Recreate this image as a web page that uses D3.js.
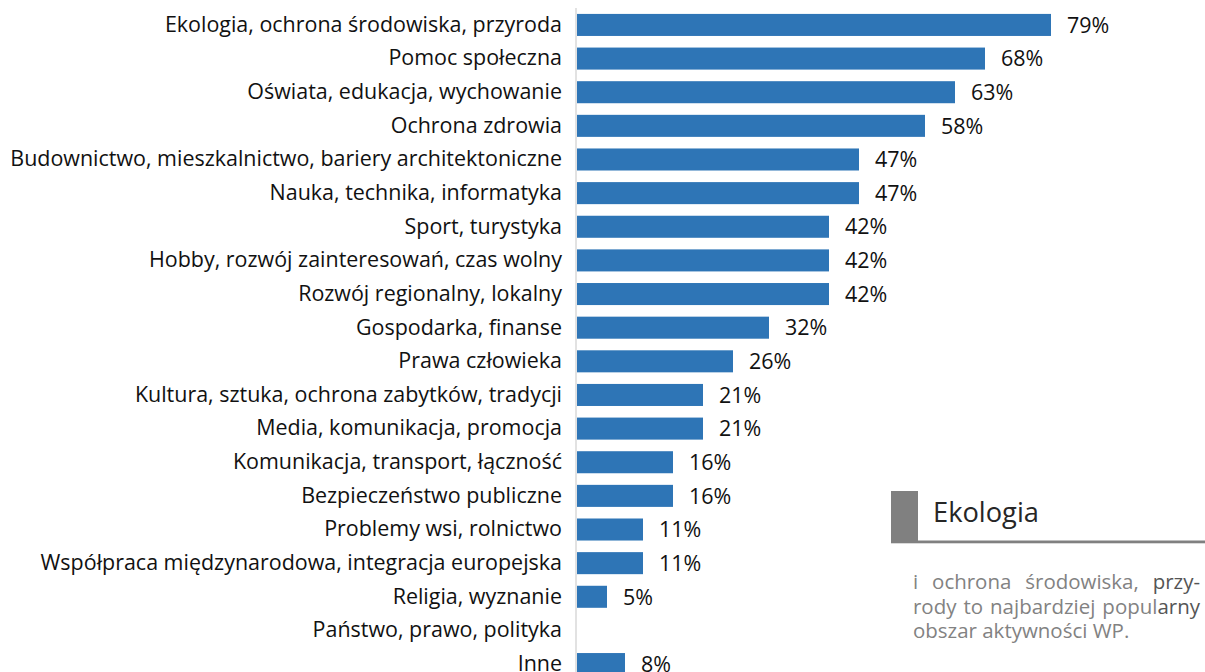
<!DOCTYPE html>
<html>
<head>
<meta charset="utf-8">
<script src="https://cdn.jsdelivr.net/npm/d3@7"></script>
<style>
  html, body { margin: 0; padding: 0; background: #fff; }
  svg { display: block; }
</style>
</head>
<body>
<svg id="chart" width="1205" height="672"></svg>
<script>
// Obszary działalności – odsetek wskazań
const categories = [
  "Ekologia, ochrona środowiska, przyroda",
  "Pomoc społeczna",
  "Oświata, edukacja, wychowanie",
  "Ochrona zdrowia",
  "Budownictwo, mieszkalnictwo, bariery architektoniczne",
  "Nauka, technika, informatyka",
  "Sport, turystyka",
  "Hobby, rozwój zainteresowań, czas wolny",
  "Rozwój regionalny, lokalny",
  "Gospodarka, finanse",
  "Prawa człowieka",
  "Kultura, sztuka, ochrona zabytków, tradycji",
  "Media, komunikacja, promocja",
  "Komunikacja, transport, łączność",
  "Bezpieczeństwo publiczne",
  "Problemy wsi, rolnictwo",
  "Współpraca międzynarodowa, integracja europejska",
  "Religia, wyznanie",
  "Państwo, prawo, polityka",
  "Inne"
];
const values = [79, 68, 63, 58, 47, 47, 42, 42, 42, 32, 26, 21, 21, 16, 16, 11, 11, 5, 0, 8];

const sideTitle = "Ekologia";
// słowa w wierszach: [tekst, ciemniejszy, sklejony z następnym]
const sideLines = [
  [["i", 0], ["ochrona", 0], ["środowiska,", 0], ["przy-", 1]],
  [["rody", 0], ["to", 0], ["najbardziej", 0], ["popul", 0, true], ["arny", 1]],
  [["obszar", 0], ["aktywności", 0], ["WP.", 0]]
];

const svg = d3.select("#chart");
const font = "'Open Sans', sans-serif";
const rows = categories.map((c, i) => ({ c, v: values[i] }));

const x0 = 577;
const x = d3.scaleLinear().domain([0, 80]).range([x0, x0 + 80 * 6.0]);
const y = d3.scaleBand()
  .domain(categories)
  .range([8.2, 8.2 + 33.63 * categories.length])
  .paddingInner(0.345)
  .paddingOuter(0.17);

// dopasowanie rozmiaru czcionki do najdłuższej etykiety
const probe = svg.append("text").attr("font-family", font).attr("font-size", 20)
  .text(categories[4]);
const labelSize = 20 * 552 / probe.node().getComputedTextLength();
probe.remove();

// pionowa oś
svg.append("line")
  .attr("x1", x0 - 1).attr("x2", x0 - 1)
  .attr("y1", 8).attr("y2", 672)
  .attr("stroke", "#d9d9d9").attr("stroke-width", 1.5);

// słupki
svg.append("g").selectAll("rect")
  .data(rows)
  .join("rect")
  .attr("x", x(0))
  .attr("y", d => y(d.c))
  .attr("width", d => x(d.v) - x(0))
  .attr("height", y.bandwidth())
  .attr("fill", "#2e75b6");

// etykiety kategorii
const yAxis = d3.axisLeft(y).tickSize(0).tickPadding(14);
const ag = svg.append("g").attr("transform", `translate(${x0 - 1},0)`).call(yAxis);
ag.select(".domain").remove();
ag.selectAll("text")
  .attr("font-family", font)
  .attr("font-size", labelSize)
  .attr("fill", "#111");

// etykiety wartości
svg.append("g").selectAll("text")
  .data(rows.filter(d => d.v > 0))
  .join("text")
  .attr("x", d => x(d.v) + 16)
  .attr("y", d => y(d.c) + y.bandwidth() / 2)
  .attr("dy", "0.36em")
  .attr("font-family", font)
  .attr("font-size", labelSize)
  .attr("fill", "#111")
  .text(d => d.v + "%");

// ramka z opisem
const side = svg.append("g");
side.append("rect").attr("x", 891).attr("y", 491).attr("width", 27).attr("height", 52).attr("fill", "#808080");
side.append("rect").attr("x", 891).attr("y", 540.5).attr("width", 314).attr("height", 2.8).attr("fill", "#808080");
const title = side.append("text")
  .attr("x", 933).attr("y", 522)
  .attr("font-family", font)
  .attr("font-size", 26)
  .attr("fill", "#262626")
  .text(sideTitle);
title.attr("font-size", 26 * 106 / title.node().getComputedTextLength());

// tekst wyjustowany
const left = 913, right = 1200;
const baselines = [589, 613.5, 638];
// rozmiar tak, by drugi wiersz z normalnymi odstępami miał ok. 282 px
const p2 = svg.append("text").attr("font-family", font).attr("font-size", 20)
  .text("rody to najbardziej popularny");
const fs = 20 * 282 / p2.node().getComputedTextLength();
p2.remove();

sideLines.forEach((words, li) => {
  const g = side.append("g");
  const nodes = words.map(([w, dark]) => g.append("text")
    .attr("y", baselines[li])
    .attr("font-family", font)
    .attr("font-size", fs)
    .attr("fill", dark ? "#555" : "#828282")
    .text(w));
  const widths = nodes.map(n => n.node().getComputedTextLength());
  const joined = words.map(w => !!w[2]);
  const last = li === sideLines.length - 1;
  const spaceW = fs * 0.26;
  let gaps = 0;
  words.forEach((w, i) => { if (i < words.length - 1 && !joined[i]) gaps++; });
  const total = d3.sum(widths);
  const gap = last ? spaceW : (right - left - total) / gaps;
  let cx = left;
  nodes.forEach((n, i) => {
    n.attr("x", cx);
    cx += widths[i] + (joined[i] ? 0 : gap);
  });
});
</script>
</body>
</html>
